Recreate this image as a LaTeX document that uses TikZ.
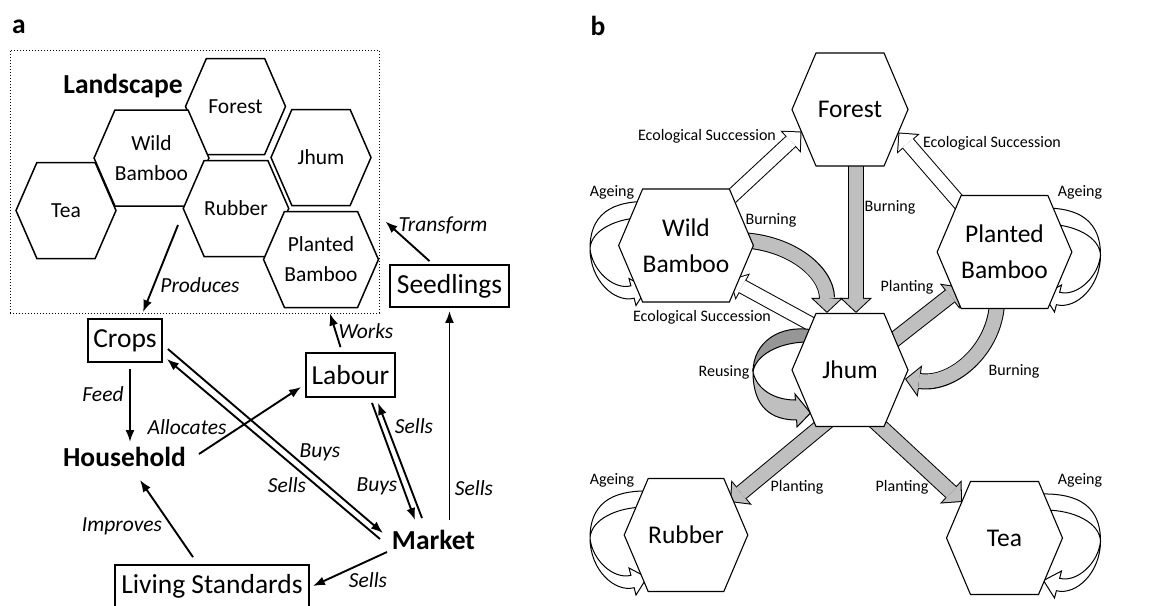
\documentclass[tikz,border=0pt]{standalone}
\usepackage{fontspec}
\setmainfont{Carlito}
\usetikzlibrary{arrows.meta, shapes.symbols, calc, backgrounds}
\definecolor{flowgray}{RGB}{191, 191, 191}
\definecolor{backgray}{RGB}{150, 150, 150}
\newcommand{\grayarrow}[1]{
  \draw[line width=16pt, -{Triangle[length=15pt,width=32pt,line width=0pt]}] #1;
  \draw[flowgray, line width=14pt, shorten >=1.37pt, -{Triangle[length=12.63pt,width=26.9pt,line width=0pt]}] #1;
}
\newcommand{\whitearrow}[1]{
  \draw[line width=15pt, -{Triangle[length=15pt,width=30pt,line width=0pt]}] #1;
  \draw[white, line width=13pt, shorten >=1.41pt, -{Triangle[length=12.59pt,width=25.2pt,line width=0pt]}] #1;
}
\newcommand{\ageloop}[2]{
  \begin{scope}[shift={(#1.center)}, xscale=#2]
  \draw[line width=1pt, fill=white] (-34,-44) .. controls (-65,-45) and (-96,-38) .. (-96,3)
    .. controls (-96,35) and (-71.3,57.7) .. (-51.9,52.7) -- (-50,60) -- (-39,42.5) -- (-57,33) -- (-55.1,40.3)
    .. controls (-72.5,44.8) and (-94,25) .. (-96,3)
    .. controls (-95,-15) and (-70,-28) .. (-40,-28) -- cycle;
  \end{scope}
}
\tikzset{>={Latex[length=12pt,width=9pt]}}

\begin{document}
\begin{tikzpicture}[x=1pt, y=-1pt,
  hexa/.style={signal, signal to=east and west, signal pointer angle=133, draw, fill=white,
    line width=1.5pt, minimum width=100pt, minimum height=96pt, inner sep=0pt, align=center,
    font=\fontsize{21.5}{30}\selectfont},
  hexb/.style={hexa, signal pointer angle=134, line width=1.1pt, minimum width=116pt,
    minimum height=113pt, font=\fontsize{25.5}{36}\selectfont},
  box/.style={draw, line width=1.8pt, inner sep=0pt, font=\fontsize{27.5}{33}\selectfont},
  bold/.style={font=\fontsize{27.5}{33}\selectfont\bfseries},
  lab/.style={font=\fontsize{21.5}{26}\selectfont\itshape},
  tag/.style={font=\fontsize{16}{19}\selectfont},
  flow/.style={->, line width=1.9pt}]
\useasboundingbox (0,0) rectangle (1166,605);

% panel a
\node[bold] (taga) at (19,27) {a};
\node[draw, dotted, line width=1pt, minimum width=369pt, minimum height=263pt] (landscape) at (194.5,181.5) {};
\node[bold] (landtitle) at (123,86) {Landscape};
\node[hexa] (aforest) at (235.5,106.5) {Forest};
\node[hexa] (awild) at (151.5,158) {Wild\\Bamboo};
\node[hexa] (atea) at (66,210.5) {Tea};
\node[hexa] (ajhum) at (321,157.5) {Jhum};
\node[hexa] (arubber) at (236,208.5) {Rubber};
\node[hexa] (aplanted) at (321,259.5) {Planted\\Bamboo};

\node[box, minimum width=74pt, minimum height=43pt] (crops) at (125,340.5) {Crops};
\node[box, minimum width=89pt, minimum height=44pt] (labour) at (350.5,375) {Labour};
\node[box, minimum width=119pt, minimum height=42pt] (seed) at (449.5,286) {Seedlings};
\node[box, minimum width=194pt, minimum height=42pt] (living) at (212,586) {Living Standards};
\node[bold] (household) at (124.5,457) {Household};
\node[bold] (market) at (433.5,540) {Market};

\node[lab] (lprod) at (200,285) {Produces};
\node[lab] (ltrans) at (443,225) {Transform};
\node[lab] (lworks) at (366,331) {Works};
\node[lab] (lseed) at (474,488) {Sells};
\node[lab] (lfeed) at (103,394) {Feed};
\node[lab] (lalloc) at (187,427) {Allocates};
\node[lab] (lbuyc) at (320,452) {Buys};
\node[lab] (lsellc) at (287,485) {Sells};
\node[lab] (lbuyl) at (377,486) {Buys};
\node[lab] (lselll) at (414,426) {Sells};
\node[lab] (limpr) at (122,526) {Improves};
\node[lab] (lsellv) at (368,580) {Sells};

\coordinate (yield) at (178,225);
\draw[flow] (yield) -- ($(crops.north)+(18,-6)$);
\draw[flow] ($(seed.north)+(-20,-3)$) -- ($(landscape.east)+(6,40)$);
\draw[flow] ($(labour.north)+(-10,-5)$) -- ($(landscape.south)+(135.5,0)$);
\draw[flow] ($(market)+(16,-20)$) -- ($(seed.south)+(0,3)$);
\draw[flow] ($(crops.south)+(5,6)$) -- ($(household)+(5.5,-15)$);
\draw[flow] ($(household)+(74.5,-3)$) -- ($(labour.west)+(-4,12)$);
\draw[flow] ($(crops.east)+(5,8.5)$) -- ($(market)+(-50.5,-7)$);
\draw[flow] ($(market)+(-53.5,-1)$) -- ($(crops.east)+(4,18.5)$);
\draw[flow] ($(labour.south)+(21.5,5)$) -- ($(market)+(-18.5,-20)$);
\draw[flow] ($(market)+(-11.5,-22)$) -- ($(labour.south)+(27.5,5)$);
\draw[flow] ($(living.north)+(-19,-7)$) -- ($(household)+(15.5,23)$);
\draw[flow] ($(market)+(-46.5,12)$) -- ($(living.east)+(3,0)$);

% panel b
\node[bold] (tagb) at (598,26) {b};
\node[hexb] (forest) at (850,109.5) {Forest};
\node[hexb] (wb) at (686,245.5) {Wild\\Bamboo};
\node[hexb] (pb) at (1004.5,252) {Planted\\Bamboo};
\node[hexb] (jhum) at (850,370) {Jhum};
\node[hexb] (rubber) at (686,535) {Rubber};
\node[hexb] (tea) at (1004.5,538) {Tea};

\begin{scope}[on background layer]
  \whitearrow{($(wb)+(29,-33.5)$) -- ($(forest)+(-48.5,22)$)}
  \whitearrow{($(pb)+(-32,-34)$) -- ($(forest)+(48.5,23)$)}
  \whitearrow{($(jhum)+(-28,-40)$) -- ($(wb)+(43.6,34)$)}
  \grayarrow{($(forest.south)+(6,-6)$) -- ($(jhum.north)+(6,0)$)}
  \grayarrow{($(wb)+(49,-5.5)$) .. controls +(53,0) and +(0,-42) .. ($(jhum.north)+(-23,0)$)}
  \grayarrow{($(jhum)+(35,-23)$) -- ($(pb)+(-43,35)$)}
  \grayarrow{($(pb)+(-7.5,48)$) .. controls +(0,46) and +(50,7) .. ($(jhum)+(55,9)$)}
  \grayarrow{($(jhum)+(-15,45)$) -- ($(rubber)+(44,-33)$)}
  \grayarrow{($(jhum)+(18,45)$) -- ($(tea)+(-42.7,-36)$)}
  \ageloop{wb}{1}
  \ageloop{rubber}{1}
  \ageloop{pb}{-1}
  \ageloop{tea}{-1}
  \begin{scope}[shift={(jhum.center)}]
  \draw[line width=1pt, fill=backgray] (-37,-40) .. controls (-70,-46) and (-97,-28) .. (-97,2)
    .. controls (-95,-14) and (-72,-28) .. (-42,-28) -- cycle;
  \draw[line width=1pt, fill=flowgray] (-97,2) .. controls (-97,38) and (-78,50) .. (-53.4,50)
    -- (-53,57) -- (-39.5,43) -- (-55,24) -- (-54.6,30) .. controls (-75,30) and (-93,20) .. (-97,2) -- cycle;
  \end{scope}
\end{scope}

\node[tag] (eco1) at (707,136) {Ecological Succession};
\node[tag] (eco2) at (992,143) {Ecological Succession};
\node[tag] (eco3) at (702,317) {Ecological Succession};
\node[tag] (age1) at (612,192) {Ageing};
\node[tag] (age2) at (1080,192) {Ageing};
\node[tag] (age3) at (612,480) {Ageing};
\node[tag] (age4) at (1080,480) {Ageing};
\node[tag] (burn1) at (890,207) {Burning};
\node[tag] (burn2) at (771,220) {Burning};
\node[tag] (burn3) at (1014,371) {Burning};
\node[tag] (plant1) at (907,287) {Planting};
\node[tag] (plant2) at (797,487) {Planting};
\node[tag] (plant3) at (902,487) {Planting};
\node[tag] (reuse) at (724,372) {Reusing};
\end{tikzpicture}
\end{document}
